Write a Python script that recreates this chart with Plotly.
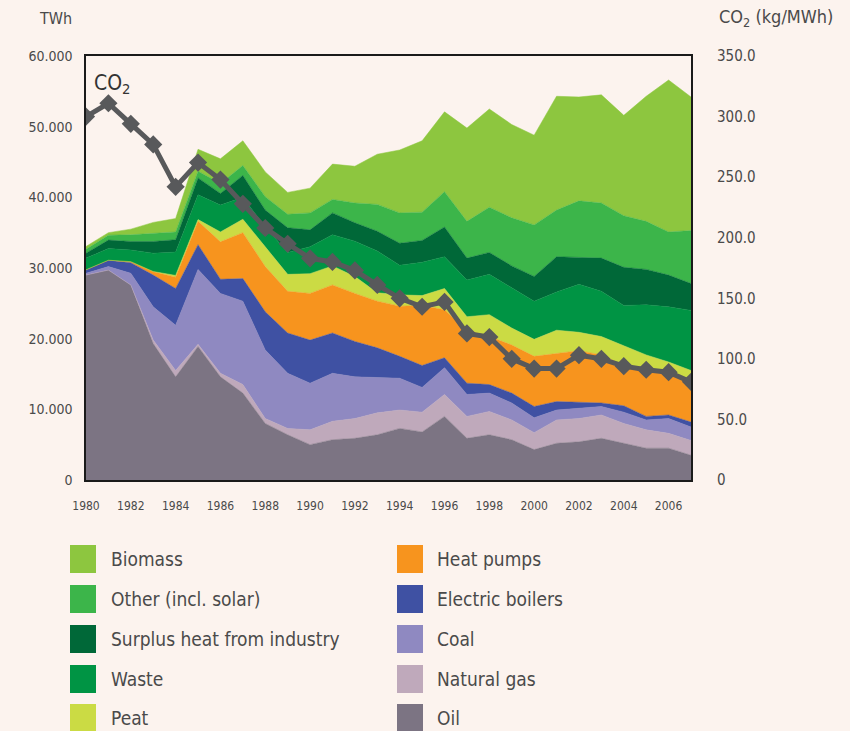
import plotly.graph_objects as go

years = list(range(1980, 2008))

oil = [29000, 29700, 27600, 19300, 14600, 18900, 14600, 12300, 8000, 6400, 5000, 5700, 5900, 6400,
       7300, 6800, 9000, 5900, 6400, 5700, 4300, 5200, 5400, 5900, 5200, 4500, 4500, 3500]
natural_gas = [0, 0, 0, 500, 900, 300, 500, 1200, 700, 900, 2100, 2600, 2800, 3100,
               2600, 2800, 3100, 3100, 3300, 2800, 2400, 3300, 3300, 3300, 2800, 2600, 2100, 2100]
coal = [250, 500, 1650, 4700, 6400, 10600, 11300, 11800, 9700, 7800, 6600, 6800, 5900, 5000,
        4500, 3500, 3800, 3100, 2600, 2400, 2100, 1400, 1400, 1200, 1600, 1400, 2100, 1900]
electric_boilers = [500, 900, 1500, 4500, 5200, 3500, 2000, 3200, 5400, 5700, 6100, 5700, 5000, 4200,
                    3100, 3100, 1400, 1600, 1200, 1400, 1600, 1200, 900, 500, 900, 500, 500, 700]
heat_pumps = [0, 0, 150, 500, 1600, 3300, 5300, 6500, 6400, 5900, 6600, 6800, 6800, 6600,
              7100, 8500, 6800, 7500, 6800, 6800, 7100, 6800, 7300, 6800, 5700, 6600, 6100, 5400]
peat = [0, 0, 0, 0, 250, 250, 1400, 1900, 2800, 2400, 2800, 2700, 2400, 1200,
        1600, 1400, 3000, 1900, 3100, 2400, 2400, 3300, 2600, 2600, 2800, 2100, 1400, 1900]
waste = [1650, 1650, 1650, 2600, 3300, 3500, 3800, 3100, 2800, 3100, 3800, 4400, 5000, 5900,
         4200, 4700, 4500, 5200, 5700, 5700, 5400, 5400, 6800, 6400, 5700, 7100, 7800, 8500]
surplus_heat = [700, 1200, 1200, 1650, 1750, 2400, 1650, 3100, 2400, 3500, 2400, 3100, 2600, 2800,
                3100, 3100, 4200, 3100, 3100, 3100, 3500, 5000, 3800, 4700, 5400, 5000, 4500, 3800]
other = [550, 700, 950, 1200, 1100, 950, 1400, 1400, 1900, 1900, 2400, 1900, 2800, 3800,
         4300, 4000, 5000, 5200, 6400, 6800, 7300, 6600, 8000, 7800, 7300, 6800, 6100, 7500]
biomass = [400, 350, 800, 1500, 1900, 3100, 3500, 3500, 3500, 3100, 3500, 5000, 5200, 7100,
           8900, 10100, 11300, 13200, 13900, 13200, 12700, 16100, 14700, 15300, 14200, 17700, 21500, 18900]

co2 = [300, 311, 294, 277, 242, 262, 248, 228, 208, 195, 183, 180, 173, 161,
       150, 143, 147, 121, 118, 100, 92, 92, 103, 100, 94, 91, 89, 81]

x_tick_years = list(range(1980, 2007, 2))
y_left_vals = [0, 10000, 20000, 30000, 40000, 50000, 60000]
y_left_text = ["0", "10.000", "20.000", "30.000", "40.000", "50.000", "60.000"]
y_right_vals = [0, 50, 100, 150, 200, 250, 300, 350]
y_right_text = ["0", "50.0", "100.0", "150.0", "200.0", "250.0", "300.0", "350.0"]

# stacking order bottom -> top
series = [
    ("Oil", oil, "#7c7483"),
    ("Natural gas", natural_gas, "#bfa9bb"),
    ("Coal", coal, "#8f89c1"),
    ("Electric boilers", electric_boilers, "#3f51a3"),
    ("Heat pumps", heat_pumps, "#f7941e"),
    ("Peat", peat, "#cbdb44"),
    ("Waste", waste, "#009444"),
    ("Surplus heat from industry", surplus_heat, "#006838"),
    ("Other (incl. solar)", other, "#3cb54a"),
    ("Biomass", biomass, "#8dc63f"),
]

FONT = "'DejaVu Sans Condensed', 'Liberation Sans Narrow', 'Roboto Condensed', Roboto, sans-serif"
TXT = "#4a4a4a"
BG = "#fcf3ee"

fig = go.Figure()
for name, vals, col in series:
    fig.add_trace(go.Scatter(
        x=years, y=vals, name=name, stackgroup="one", mode="lines",
        line=dict(width=0.5, color=col), fillcolor=col, showlegend=False,
        hoverinfo="x+y+name",
    ))

fig.add_trace(go.Scatter(
    x=years, y=co2, name="CO2", yaxis="y2", mode="lines+markers",
    line=dict(color="#58595b", width=5),
    marker=dict(symbol="diamond", size=14, color="#58595b"),
    showlegend=False,
))

L, R, T, B = 86, 691, 56, 480
W, H = 850, 731


def pxx(x):
    return (x - L) / (R - L)


def pxy(y):
    return (B - y) / (B - T)


shapes = []
annotations = []

# custom legend: two columns
left_col = ["Biomass", "Other (incl. solar)", "Surplus heat from industry", "Waste", "Peat"]
right_col = ["Heat pumps", "Electric boilers", "Coal", "Natural gas", "Oil"]
colors = {n: c for n, _, c in series}
rows_y = [559, 599, 639, 679, 718]
for col_names, sx, tx in ((left_col, 70, 109), (right_col, 397, 435)):
    for name, yc in zip(col_names, rows_y):
        shapes.append(dict(type="rect", xref="paper", yref="paper",
                           x0=pxx(sx), x1=pxx(sx + 26), y0=pxy(yc + 14), y1=pxy(yc - 14),
                           fillcolor=colors[name], line=dict(width=0), layer="above"))
        annotations.append(dict(xref="paper", yref="paper", x=pxx(tx), y=pxy(yc),
                                xanchor="left", yanchor="middle", showarrow=False,
                                text=name, font=dict(family=FONT, size=19, color=TXT)))

annotations.append(dict(xref="paper", yref="paper", x=pxx(55), y=pxy(18),
                        xanchor="center", yanchor="middle", showarrow=False,
                        text="TWh", font=dict(family=FONT, size=16, color=TXT)))
annotations.append(dict(xref="paper", yref="paper", x=pxx(776), y=pxy(18),
                        xanchor="center", yanchor="middle", showarrow=False,
                        text="CO<sub>2</sub> (kg/MWh)", font=dict(family=FONT, size=18, color=TXT)))
annotations.append(dict(xref="paper", yref="paper", x=pxx(92), y=pxy(84),
                        xanchor="left", yanchor="middle", showarrow=False,
                        text="CO<sub>2</sub>", font=dict(family=FONT, size=21, color="#333333")))

fig.update_layout(
    width=W, height=H,
    margin=dict(l=L, r=W - R, t=T, b=H - B, pad=0),
    paper_bgcolor=BG, plot_bgcolor=BG,
    font=dict(family=FONT, size=13, color=TXT),
    xaxis=dict(range=[1980, 2007], tickmode="array", tickvals=x_tick_years,
               ticktext=[str(v) for v in x_tick_years], showgrid=False, zeroline=False,
               showline=True, mirror=True, linecolor="#1a1a1a", linewidth=1.5,
               ticks="", ticklabelstandoff=14, tickfont=dict(size=12)),
    yaxis=dict(range=[0, 60000], tickmode="array", tickvals=y_left_vals, ticktext=y_left_text,
               showgrid=False, zeroline=False, showline=True, mirror=True,
               linecolor="#1a1a1a", linewidth=1.5, ticks="", ticklabelstandoff=9,
               tickfont=dict(size=14)),
    yaxis2=dict(range=[0, 350], overlaying="y", side="right", tickmode="array",
                tickvals=y_right_vals, ticktext=y_right_text, showgrid=False,
                zeroline=False, showline=False, ticks="", ticklabelstandoff=25,
                tickfont=dict(size=15)),
    shapes=shapes, annotations=annotations,
)

fig.write_html("out.html", config={"displayModeBar": False},
               post_script="document.body.style.margin='0';")
